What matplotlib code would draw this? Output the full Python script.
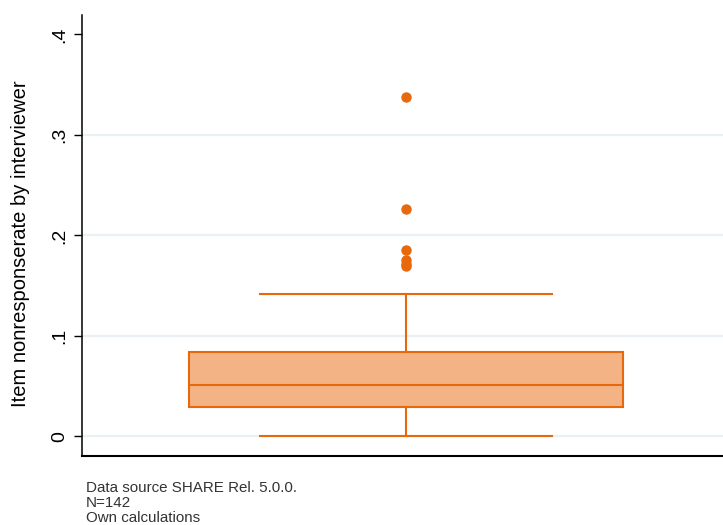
import matplotlib
matplotlib.use("Agg")
import matplotlib.pyplot as plt

plt.rcParams['font.family'] = ['Liberation Sans', 'DejaVu Sans']

# summary statistics of the item nonresponse rate per interviewer
median = 0.0517
q1 = 0.0293
q3 = 0.0845
whisker_low = 0.0
whisker_high = 0.1417
outliers = [0.3375, 0.226, 0.185, 0.176, 0.172, 0.170]

yticks = [0, 0.1, 0.2, 0.3, 0.4]
yticklabels = ["0", ".1", ".2", ".3", ".4"]
notes = ["Data source SHARE Rel. 5.0.0.", "N=142", "Own calculations"]

line_col = "#E8680C"
fill_col = "#F4B384"

fig = plt.figure(figsize=(7.23, 5.25), dpi=100)
ax = fig.add_axes([0.114, 0.1305, 0.886, 0.8405])

stats = [dict(med=median, q1=q1, q3=q3, whislo=whisker_low, whishi=whisker_high,
              fliers=outliers)]
ax.bxp(stats, positions=[1], widths=1.355, capwidths=0.909, patch_artist=True,
       boxprops=dict(facecolor=fill_col, edgecolor=line_col, linewidth=1.5),
       medianprops=dict(color=line_col, linewidth=1.5),
       whiskerprops=dict(color=line_col, linewidth=1.5),
       capprops=dict(color=line_col, linewidth=1.5),
       flierprops=dict(marker='o', markerfacecolor=line_col, markeredgecolor=line_col,
                       markersize=6.5))

ax.set_xlim(-0.0102, 1.9898)
ax.set_ylim(-0.0199, 0.419)
ax.set_xticks([])
ax.set_yticks(yticks)
ax.set_yticklabels(yticklabels, rotation=90, va='center', fontsize=14)
ax.tick_params(axis='y', length=6, width=1, pad=4.5)

# horizontal grid, skipping the top tick
for y in yticks[:-1]:
    ax.axhline(y, color="#EAF0F3", linewidth=1.6, zorder=0)

ax.spines['top'].set_visible(False)
ax.spines['right'].set_visible(False)
ax.spines['left'].set_linewidth(1.1)
ax.spines['bottom'].set_linewidth(1.5)

ax.set_ylabel("Item nonresponserate by interviewer", fontsize=14.5)
ax.yaxis.set_label_coords(-0.082, 0.4825)

for i, line in enumerate(notes):
    fig.text(86 / 723, 1 - (488 + 15 * i) / 525, line, fontsize=10.9, va='center',
             color="#333333")

fig.savefig("out.png", dpi=100)
